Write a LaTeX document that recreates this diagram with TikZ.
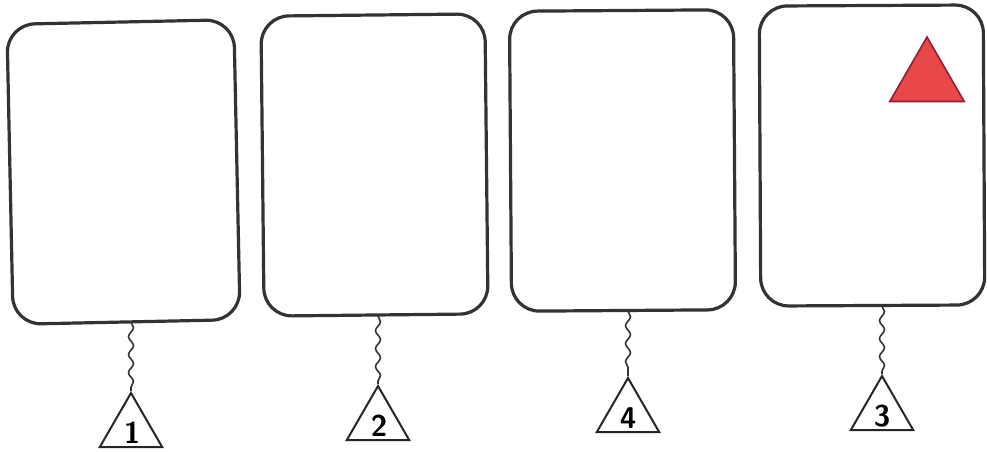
\documentclass[tikz,border=0pt]{standalone}
\usetikzlibrary{shapes.geometric,decorations.pathmorphing}
\begin{document}
\begin{tikzpicture}[x=1pt,y=-1pt,
  card/.style={draw=black!80,line width=3.2pt,rounded corners=28pt,fill=white,
    minimum width=224pt,minimum height=300pt,inner sep=0pt},
  tag/.style={draw=black!85,line width=2pt,regular polygon,regular polygon sides=3,
    minimum size=72pt,inner sep=0pt},
  num/.style={font=\sffamily\bfseries\fontsize{30}{30}\selectfont,inner sep=0pt},
  string/.style={draw=black!80,line width=1.6pt,decorate,
    decoration={snake,amplitude=2.5pt,segment length=18pt}}]
\useasboundingbox (0,0) rectangle (987,451);
\fill[white] (0,0) rectangle (987,451);
% cards
\node[card,rotate=1.2,minimum width=227pt] (c1) at (123.5,172) {};
\node[card,rotate=0.6] (c2) at (374.5,165) {};
\node[card,rotate=0.4] (c3) at (622.5,160.5) {};
\node[card,rotate=0.3] (c4) at (872,155.5) {};
% tags
\node[tag] (t1) at (131,429) {};
\node[num] (n1) at (132,433) {1};
\node[tag] (t2) at (378,422) {};
\node[num] (n2) at (379,426) {2};
\node[tag] (t3) at (628,414) {};
\node[num] (n3) at (628,418) {4};
\node[tag] (t4) at (882,412) {};
\node[num] (n4) at (882,416) {3};
% strings
\coordinate (s1) at (131,322);
\coordinate (s2) at (378,316);
\coordinate (s3) at (628,311);
\coordinate (s4) at (882,306);
\draw[string] (s1) -- (t1.corner 1);
\draw[string] (s2) -- (t2.corner 1);
\draw[string] (s3) -- (t3.corner 1);
\draw[string] (s4) -- (t4.corner 1);
% red triangle
\node[regular polygon,regular polygon sides=3,minimum size=86pt,inner sep=0pt,
  fill={rgb,255:red,232;green,72;blue,72},draw={rgb,255:red,150;green,30;blue,50},
  line width=1.6pt] (rt) at (927,80) {};
\end{tikzpicture}
\end{document}
